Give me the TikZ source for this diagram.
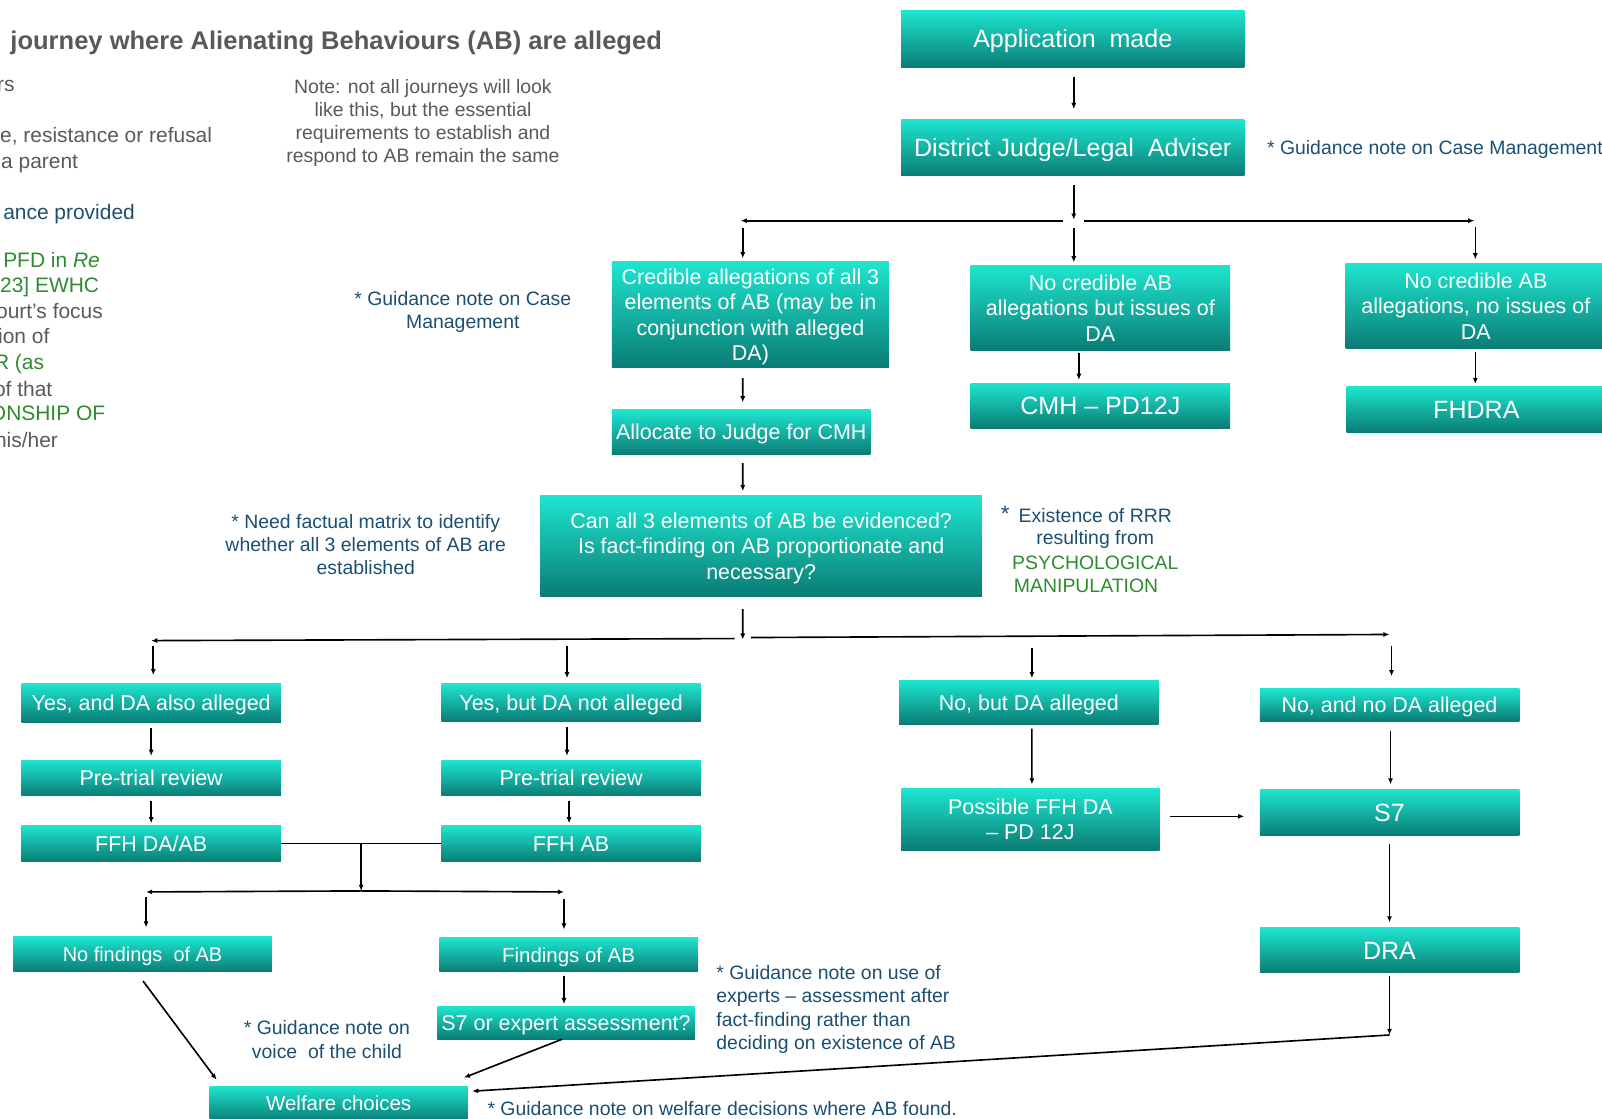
\documentclass[tikz,border=0pt]{standalone}
\usepackage{fontspec}
\setmainfont{Liberation Sans}
\usetikzlibrary{arrows.meta,calc}
\definecolor{boxtop}{HTML}{1EE5D0}
\definecolor{boxbot}{HTML}{0A7C74}
\definecolor{tgray}{HTML}{595959}
\definecolor{nblue}{HTML}{1B4F72}
\definecolor{ngreen}{HTML}{2E8B2E}
\begin{document}
\begin{tikzpicture}[x=1bp,y=-1bp,
 box/.style={top color=boxtop,bottom color=boxbot,text=white,align=center,inner sep=0pt,font=\fontsize{21bp}{25bp}\selectfont},
 one/.style={text height=15bp,text depth=0pt},
 big/.style={font=\fontsize{24.5bp}{29bp}\selectfont,text height=17.5bp,text depth=0pt},
 small/.style={font=\fontsize{20bp}{24bp}\selectfont,text height=14.3bp,text depth=0pt},
 note/.style={text=nblue,align=center,inner sep=0pt,font=\fontsize{19bp}{22.7bp}\selectfont},
 lcol/.style={anchor=west,inner sep=0pt,font=\fontsize{20.5bp}{25bp}\selectfont,text height=7.2pt,text depth=2pt},
 arr/.style={line width=1.6bp,-{Latex[length=6bp,width=5bp]}},
 ln/.style={line width=1.6bp}]
\useasboundingbox (0,0) rectangle (1568,1095);

% title and left column
\node[anchor=west,inner sep=0pt,text=tgray,font=\bfseries\fontsize{25bp}{30bp}\selectfont] (title) at (10,42) {journey where Alienating Behaviours (AB) are alleged};
\node[lcol,text=tgray] (l1) at (-3,87) {rs};
\node[lcol,text=tgray] (l2) at (0,137) {e, resistance or refusal};
\node[lcol,text=tgray] (l3) at (1,162) {a parent};
\node[lcol,text=nblue] (l4) at (3,212) {ance provided};
\node[lcol,text=ngreen] (l5) at (3,259) {PFD in \textit{Re}};
\node[lcol,text=ngreen] (l6) at (0,284) {23] EWHC};
\node[lcol,text=tgray] (l7) at (-4,309) {ourt’s focus};
\node[lcol,text=tgray] (l8) at (-2,334) {ion of};
\node[lcol,text=ngreen] (l9) at (-6,359) {R (as};
\node[lcol,text=tgray] (l10) at (-6,385) {of that};
\node[lcol,text=ngreen] (l11) at (-10,409) {ONSHIP OF};
\node[lcol,text=tgray] (l12) at (-5,435) {his/her};

% notes
\node[note,text=tgray] (topnote) at (414,120.5) {Note: not all journeys will look\\like this, but the essential\\requirements to establish and\\respond to AB remain the same};
\node[note,anchor=west] (g1) at (1240,146) {* Guidance note on Case Management};
\node[note] (g2) at (453,305) {* Guidance note on Case\\Management};
\node[note] (g3) at (358,533) {* Need factual matrix to identify\\whether all 3 elements of AB are\\established};
\node[note,font=\fontsize{22bp}{24bp}\selectfont] (g4s) at (984,503) {*};
\node[note] (g4a) at (1072,505) {Existence of RRR};
\node[note] (g4b) at (1072,528) {resulting from};
\node[note,text=ngreen] (g4c) at (1072,551) {PSYCHOLOGICAL};
\node[note,text=ngreen] (g4d) at (1063,573) {MANIPULATION};
\node[note,align=left,anchor=west] (g5) at (701,988) {* Guidance note on use of\\experts – assessment after\\fact-finding rather than\\deciding on existence of AB};
\node[note] (g6) at (320,1017.5) {* Guidance note on\\voice\ \ of the child};
\node[note,anchor=west] (g7) at (477,1085) {* Guidance note on welfare decisions where AB found.};

% boxes
\node[box,big,minimum width=336bp,minimum height=56bp] (app) at (1050,38) {Application\ \ made};
\node[box,big,minimum width=336bp,minimum height=55bp] (dj) at (1050,144.5) {District Judge/Legal\ \ Adviser};
\node[box,minimum width=271bp,minimum height=104bp] (cred) at (734.5,308) {\rule{0pt}{19.5bp}Credible allegations of all 3\\elements of AB (may be in\\conjunction with alleged\\DA)};
\node[box,minimum width=254bp,minimum height=83bp] (ncda) at (1077,301.5) {No credible AB\\allegations but issues of\\DA};
\node[box,minimum width=255bp,minimum height=83bp] (ncnoda) at (1444.5,299.5) {No credible AB\\allegations, no issues of\\DA};
\node[box,big,minimum width=254bp,minimum height=44bp] (cmh) at (1077,397) {CMH – PD12J};
\node[box,big,minimum width=254bp,minimum height=45bp] (fhdra) at (1445,400.5) {FHDRA};
\node[box,one,minimum width=253bp,minimum height=44bp] (alloc) at (725.5,423) {Allocate to Judge for CMH};
\node[box,minimum width=432bp,minimum height=99bp] (can) at (745,534.5) {\rule{0pt}{19.5bp}Can all 3 elements of AB be evidenced?\\Is fact-finding on AB proportionate and\\necessary?};
\node[box,one,minimum width=254bp,minimum height=38bp] (yda) at (148,688) {Yes, and DA also alleged};
\node[box,one,minimum width=254bp,minimum height=37bp] (ynda) at (559,687.5) {Yes, but DA not alleged};
\node[box,one,minimum width=254bp,minimum height=43bp] (nbda) at (1007,687.5) {No, but DA alleged};
\node[box,one,minimum width=254bp,minimum height=32bp] (nnda) at (1360,690) {No, and no DA alleged};
\node[box,one,minimum width=254bp,minimum height=35bp] (ptr1) at (148,761.5) {Pre-trial review};
\node[box,one,minimum width=254bp,minimum height=35bp] (ptr2) at (559,761.5) {Pre-trial review};
\node[box,one,minimum width=254bp,minimum height=35bp] (ffh1) at (148,825.5) {FFH DA/AB};
\node[box,one,minimum width=254bp,minimum height=35bp] (ffh2) at (559,825.5) {FFH AB};
\node[box,minimum width=253bp,minimum height=60bp] (pffh) at (1008.5,802) {Possible FFH DA\\– PD 12J};
\node[box,big,minimum width=254bp,minimum height=45bp] (s7) at (1360,795.5) {S7};
\node[box,big,minimum width=254bp,minimum height=44bp] (dra) at (1360,930) {DRA};
\node[box,small,font=\fontsize{19.5bp}{23bp}\selectfont,minimum width=253bp,minimum height=34bp] (nof) at (139.5,934) {No findings\ \ of AB};
\node[box,small,minimum width=253bp,minimum height=33bp] (fof) at (556.5,934.5) {Findings of AB};
\node[box,one,minimum width=252bp,minimum height=32bp] (s7e) at (554,1001) {S7 or expert assessment?};
\node[box,small,minimum width=253bp,minimum height=34bp] (wel) at (331.5,1080) {Welfare choices};

% connectors
\draw[arr,shorten <=9bp,shorten >=10bp] ([xshift=1bp]app.south) -- ([xshift=1bp]dj.north);
\coordinate (s1) at (1051,215);
\draw[arr,shorten <=9bp] ([xshift=1bp]dj.south) -- (s1);
\coordinate (s1l) at (1040,216); \coordinate (s1L) at (725,216);
\coordinate (s1r) at (1061,216); \coordinate (s1R) at (1443,216);
\draw[arr] (s1l) -- (s1L);
\draw[arr] (s1r) -- (s1R);
\coordinate (c1) at (727,223); \draw[arr,shorten >=3bp] (c1) -- (c1 |- cred.north);
\coordinate (c2) at (1051,223); \draw[arr,shorten >=3bp] (c2) -- (c2 |- ncda.north);
\coordinate (c3) at (1444,222); \draw[arr,shorten >=4bp] (c3) -- (c3 |- ncnoda.north);
\draw[arr,shorten <=2bp,shorten >=3bp] ([xshift=-21bp]ncda.south) -- ([xshift=-21bp]cmh.north);
\draw[arr,shorten <=3bp,shorten >=2bp] ([xshift=-0.5bp]ncnoda.south) -- ([xshift=-1bp]fhdra.north);
\draw[arr,shorten <=10bp,shorten >=7bp] ([xshift=-7.5bp]cred.south) -- ([xshift=1.5bp]alloc.north);
\draw[arr,shorten <=8bp,shorten >=4bp] ([xshift=1.5bp]alloc.south) -- ([xshift=-18bp]can.north);
\coordinate (s2) at (727,626);
\draw[arr,shorten <=12bp] ([xshift=-18bp]can.south) -- (s2);
\coordinate (s2l) at (719,625); \coordinate (s2L) at (148,627);
\coordinate (s2r) at (735,624); \coordinate (s2R) at (1360,621);
\draw[arr] (s2l) -- (s2L);
\draw[arr] (s2r) -- (s2R);
\coordinate (d1) at (150,632); \draw[arr,shorten >=8bp] (d1) -- (d1 |- yda.north);
\coordinate (d2) at (555,632); \draw[arr,shorten >=5bp] (d2) -- (d2 |- ynda.north);
\coordinate (d3) at (1010,634); \draw[arr,shorten >=2bp] (d3) -- (d3 |- nbda.north);
\coordinate (d4) at (1362,632); \draw[arr,shorten >=12bp] (d4) -- (d4 |- nnda.north);
\draw[arr,shorten <=5bp,shorten >=4bp] (yda.south) -- (ptr1.north);
\draw[arr,shorten <=5bp,shorten >=2bp] (ptr1.south) -- (ffh1.north);
\draw[arr,shorten <=5bp,shorten >=4bp] ([xshift=-4bp]ynda.south) -- ([xshift=-4bp]ptr2.north);
\draw[arr,shorten <=5bp,shorten >=2bp] ([xshift=-2bp]ptr2.south) -- ([xshift=-2bp]ffh2.north);
\draw[ln] (ffh1.east) -- (ffh2.west);
\coordinate (j) at ($(ffh1.east)!0.5!(ffh2.west)$);
\coordinate (j2) at (353.5,872);
\draw[arr] (j) -- (j2);
\coordinate (j2L) at (143,873); \coordinate (j2R) at (552,873);
\draw[arr] (j2) -- (j2L);
\draw[arr] (j2) -- (j2R);
\coordinate (e1) at (143,878); \draw[arr,shorten >=9bp] (e1) -- (e1 |- nof.north);
\coordinate (e2) at (552,880); \draw[arr,shorten >=8bp] (e2) -- (e2 |- fof.north);
\draw[arr,shorten <=4bp,shorten >=2bp] ([xshift=-4.5bp]fof.south) -- ([xshift=-2bp]s7e.north);
\draw[arr] ([xshift=0.5bp,yshift=-9bp]nof.south) -- ([xshift=-119.5bp,yshift=6bp]wel.north);
\draw[arr] ([xshift=-4bp]s7e.south) -- ([xshift=122.5bp,yshift=8bp]wel.north);
\draw[arr,shorten <=4bp,shorten >=4bp] ([xshift=3bp]nbda.south) -- ([xshift=1.5bp]pffh.north);
\coordinate (p1) at ([yshift=3bp]pffh.east);
\draw[arr,shorten <=10bp,shorten >=15bp] (p1) -- (p1 -| s7.west);
\draw[arr,shorten <=9bp,shorten >=5bp] ([xshift=1bp]nnda.south) -- ([xshift=1bp]s7.north);
\draw[arr,shorten <=8bp,shorten >=5bp] (s7.south) -- (dra.north);
\coordinate (k) at (1360,1013);
\draw[arr,shorten <=3bp] (dra.south) -- (k);
\draw[arr] (k) -- ([xshift=4bp,yshift=12bp]wel.east);
\end{tikzpicture}
\end{document}
